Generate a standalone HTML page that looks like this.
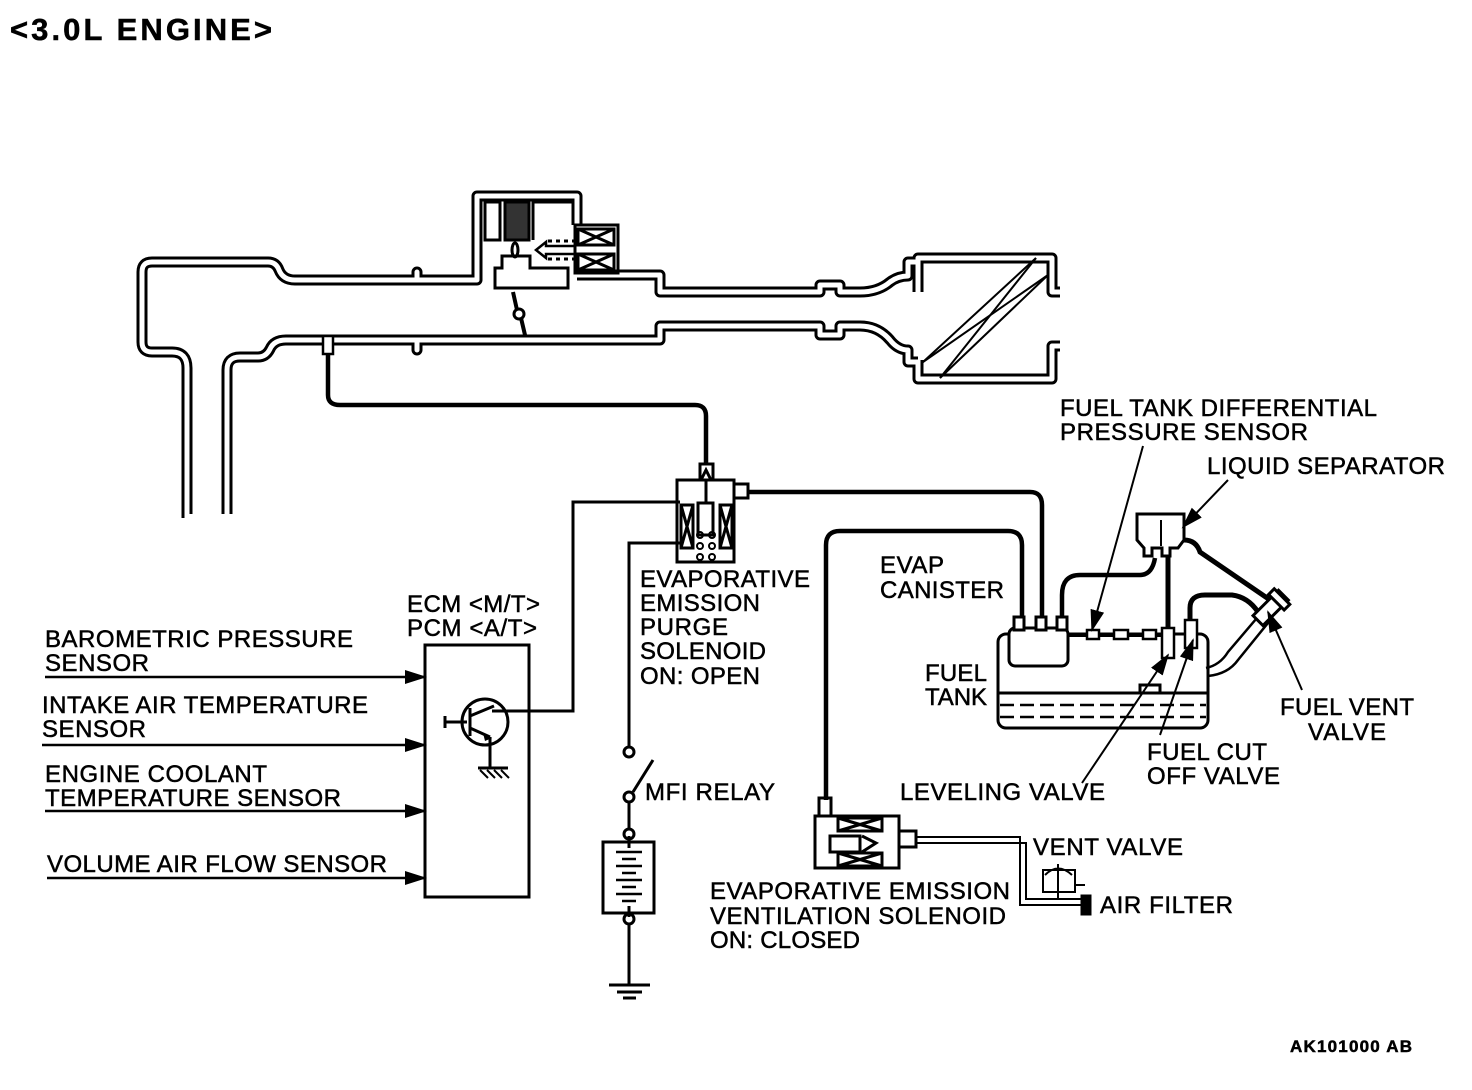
<!DOCTYPE html>
<html><head><meta charset="utf-8"><style>
html,body{margin:0;padding:0;background:#fff;}
svg{display:block;}
text{font-family:"Liberation Sans",Arial,sans-serif;font-size:24px;fill:#000;stroke:#000;stroke-width:0.5px;}
</style></head><body>
<svg width="1472" height="1090" viewBox="0 0 1472 1090" xmlns="http://www.w3.org/2000/svg">
<defs>
<marker id="ah2" markerWidth="22" markerHeight="14" refX="20" refY="7" orient="auto" markerUnits="userSpaceOnUse"><path d="M0,0 L22,7 L0,14 z" fill="#000"/></marker>
</defs>
<text x="10" y="40" style="font-size:31px;font-weight:bold" textLength="262">&lt;3.0L ENGINE&gt;</text>

<g fill="none" stroke-linejoin="round">
<g stroke="#000" stroke-width="11">
<path d="M187,518 V368 Q187,352 172,352 H152 Q142,352 142,342 V272 Q142,262 152,262 H268 Q276,262 279,270 Q283,280 295,280 H417 V272 V280 H477 V196 H577 V225"/>
<path d="M577,275 H660 V292 H820 V285 H840 V292 H860 Q878,292 890,282 Q898,276 908,276 V262 H918"/>
<path d="M227,518 V370 Q227,357 240,357 H258 Q266,357 270,349 Q274,340 286,340 H417 V350 V340 H660 V326 H820 V335 H840 V326 H860 Q878,326 890,340 Q898,350 908,350 V362 H918"/>
<path d="M918,292 V258 H1052 V292 H1060"/>
<path d="M918,360 V379 H1052 V346 H1060"/>
</g>
<g stroke="#fff" stroke-width="5">
<path d="M187,518 V368 Q187,352 172,352 H152 Q142,352 142,342 V272 Q142,262 152,262 H268 Q276,262 279,270 Q283,280 295,280 H417 V272 V280 H477 V196 H577 V225"/>
<path d="M577,275 H660 V292 H820 V285 H840 V292 H860 Q878,292 890,282 Q898,276 908,276 V262 H918"/>
<path d="M227,518 V370 Q227,357 240,357 H258 Q266,357 270,349 Q274,340 286,340 H417 V350 V340 H660 V326 H820 V335 H840 V326 H860 Q878,326 890,340 Q898,350 908,350 V362 H918"/>
<path d="M918,292 V258 H1052 V292 H1060"/>
<path d="M918,360 V379 H1052 V346 H1060"/>
</g>
</g>
<rect x="185" y="514" width="50" height="8" fill="#fff"/>
<g stroke="#000" stroke-width="2">
<line x1="923" y1="362" x2="1036" y2="258"/><line x1="923" y1="362" x2="1048" y2="275"/>
<line x1="940" y1="378" x2="1036" y2="258"/><line x1="940" y1="378" x2="1048" y2="275"/>
</g>
<g fill="none" stroke="#000" stroke-width="3">
<rect x="485" y="202" width="15" height="38"/>
<rect x="505" y="202" width="24" height="38" fill="#333"/>
<path d="M533,240 V202 H573 V225"/>
<rect x="575" y="225" width="43" height="48"/>
<rect x="578" y="229" width="36" height="16"/><path d="M578,229 L614,245 M614,229 L578,245"/>
<rect x="578" y="254" width="36" height="16"/><path d="M578,254 L614,270 M614,254 L578,270"/>
<path d="M502,268 V256 H530 V268 H568 V288 H495 V268 Z"/>
<ellipse cx="515" cy="250" rx="3" ry="7"/>
<path d="M536,250 L546,242 V246 H575 V254 H546 V258 Z" stroke-width="2.5"/>
<path d="M548,241 H575 M548,259 H575" stroke-dasharray="4,4"/>
<path d="M513,292 L517,310 M521,318 L525,335" stroke-width="4"/>
<circle cx="519" cy="314" r="5"/>
</g>
<rect x="323" y="336" width="10" height="18" fill="#fff" stroke="#000" stroke-width="2.5"/>
<path d="M328,354 V395 Q328,405 340,405 H695 Q706,405 706,416 V463" fill="none" stroke="#000" stroke-width="4.5"/>

<g fill="none" stroke="#000" stroke-width="3">
<rect x="677" y="480" width="57" height="82" fill="#fff"/>
<rect x="700" y="464" width="13" height="16"/>
<path d="M701,480 L706,470 L711,480"/>
<line x1="706" y1="480" x2="706" y2="503"/>
<rect x="734" y="484" width="14" height="14"/>
<rect x="681" y="505" width="12" height="43"/><path d="M681,505 L693,548 M693,505 L681,548"/>
<rect x="720" y="505" width="12" height="43"/><path d="M720,505 L732,548 M732,505 L720,548"/>
<rect x="698" y="503" width="15" height="32"/>
</g>
<g fill="none" stroke="#000" stroke-width="2">
<circle cx="700" cy="535" r="3"/><circle cx="712" cy="535" r="3"/>
<circle cx="700" cy="546" r="3"/><circle cx="712" cy="546" r="3"/>
<circle cx="700" cy="557" r="3"/><circle cx="712" cy="557" r="3"/>
</g>
<path d="M748,492 H1030 Q1042,492 1042,505 V618" fill="none" stroke="#000" stroke-width="4.5"/>

<g fill="none" stroke="#000" stroke-width="3">
<path d="M492,711 H573 V502 H680"/>
<path d="M680,543 H629 V746"/>
<circle cx="629" cy="752" r="5"/>
<path d="M633,792 L653,760"/>
<circle cx="629" cy="797" r="5"/>
<line x1="629" y1="802" x2="629" y2="828"/>
<circle cx="629" cy="834" r="5"/>
<rect x="603" y="842" width="51" height="71"/>
<circle cx="629" cy="919" r="5"/>
<line x1="629" y1="924" x2="629" y2="985"/>
<line x1="609" y1="985" x2="650" y2="985"/><line x1="617" y1="992" x2="642" y2="992"/><line x1="623" y1="998" x2="636" y2="998"/>
<line x1="629" y1="836" x2="629" y2="848"/><line x1="629" y1="906" x2="629" y2="917"/>
</g>
<g stroke="#000" stroke-width="2.5">
<line x1="616" y1="852" x2="642" y2="852"/><line x1="622" y1="859" x2="636" y2="859"/>
<line x1="616" y1="866" x2="642" y2="866"/><line x1="622" y1="873" x2="636" y2="873"/>
<line x1="616" y1="880" x2="642" y2="880"/><line x1="622" y1="887" x2="636" y2="887"/>
<line x1="616" y1="894" x2="642" y2="894"/><line x1="622" y1="901" x2="636" y2="901"/>
</g>

<g fill="none" stroke="#000" stroke-width="3">
<rect x="425" y="645" width="104" height="252"/>
<circle cx="485" cy="722" r="23"/>
<line x1="445" y1="722" x2="467" y2="722"/>
<line x1="445" y1="716" x2="445" y2="728"/>
<line x1="470" y1="708" x2="470" y2="736"/>
<line x1="470" y1="716" x2="494" y2="706"/>
<line x1="470" y1="728" x2="490" y2="737"/>
<line x1="490" y1="737" x2="490" y2="768"/>
<line x1="478" y1="768" x2="508" y2="768"/>
</g>
<g stroke="#000" stroke-width="2"><line x1="480" y1="770" x2="488" y2="778"/><line x1="487" y1="770" x2="495" y2="778"/><line x1="494" y1="770" x2="502" y2="778"/><line x1="501" y1="770" x2="509" y2="778"/></g>
<path d="M483,733 L492,738 L485,741 Z" fill="#000"/>
<g stroke="#000" stroke-width="2.5" marker-end="url(#ah2)">
<line x1="45" y1="677" x2="425" y2="677"/>
<line x1="42" y1="745" x2="425" y2="745"/>
<line x1="45" y1="811" x2="425" y2="811"/>
<line x1="47" y1="878" x2="425" y2="878"/>
</g>

<path d="M826,800 V545 Q826,531 840,531 H1008 Q1022,531 1022,545 V618" fill="none" stroke="#000" stroke-width="4.5"/>
<g fill="none" stroke="#000" stroke-width="3">
<rect x="819" y="798" width="12" height="18"/>
<rect x="815" y="816" width="84" height="52" fill="#fff"/>
<rect x="838" y="818" width="44" height="13"/><path d="M838,818 L882,831 M882,818 L838,831"/>
<rect x="838" y="853" width="44" height="13"/><path d="M838,853 L882,866 M882,853 L838,866"/>
<rect x="830" y="836" width="30" height="16"/>
<path d="M862,836 L876,843 L862,852"/>
<rect x="899" y="831" width="17" height="16" fill="#fff"/>
</g>
<g fill="none" stroke="#000" stroke-width="2">
<path d="M916,837 H1020 V905 H1082"/><path d="M916,843 H1026 V899 H1082"/>
<rect x="1082" y="896" width="8" height="18" stroke-width="3" fill="#000"/>
<path d="M1043,870 H1075 V892 H1043 Z"/>
<path d="M1045,875 Q1058,862 1072,875 M1058,864 V899 M1074,885 H1085"/>
</g>

<g fill="none" stroke="#000" stroke-width="3">
<rect x="998" y="634" width="210" height="94" rx="8"/>
<line x1="998" y1="693" x2="1208" y2="693"/>
<path d="M1000,705 H1206 M1000,717 H1206" stroke-width="2.5" stroke-dasharray="14,6"/>
<rect x="1140" y="685" width="20" height="8" fill="#fff"/>
<rect x="1009" y="628" width="59" height="38" rx="6" fill="#fff"/>
<rect x="1014" y="617" width="10" height="13" fill="#fff"/><rect x="1036" y="617" width="10" height="13" fill="#fff"/><rect x="1057" y="617" width="10" height="13" fill="#fff"/>
</g>
<path d="M1062,617 V595 Q1062,575 1080,575 H1140 Q1152,575 1155,558" fill="none" stroke="#000" stroke-width="4.5"/>
<path d="M1068,636 H1164" stroke="#000" stroke-width="2"/>
<g fill="#fff" stroke="#000" stroke-width="2.5">
<rect x="1087" y="630" width="12" height="9"/><rect x="1114" y="630" width="14" height="9"/><rect x="1143" y="630" width="13" height="9"/>
</g>
<path d="M1137,514 H1184 V540 L1178,548 H1170 V556 H1162 V548 H1152 V556 H1144 V548 L1137,540 Z" fill="#fff" stroke="#000" stroke-width="3"/>
<path d="M1161,520 V546" stroke="#000" stroke-width="2"/>
<path d="M1168,556 V630" stroke="#000" stroke-width="5"/>
<rect x="1162" y="628" width="12" height="30" fill="#fff" stroke="#000" stroke-width="2.5"/>
<path d="M1190,620 V608 Q1190,595 1205,595 H1232 Q1248,597 1258,612" fill="none" stroke="#000" stroke-width="5"/>
<rect x="1185" y="620" width="12" height="28" fill="#fff" stroke="#000" stroke-width="2.5"/>
<path d="M1184,540 Q1196,540 1200,552 L1270,600" fill="none" stroke="#000" stroke-width="5"/>
<path d="M1206,668 Q1220,665 1228,652 L1262,612" fill="none" stroke="#000" stroke-width="2.5"/>
<path d="M1208,676 Q1228,674 1238,660 L1272,618" fill="none" stroke="#000" stroke-width="2.5"/>
<path d="M1208,652 V672" stroke="#000" stroke-width="2.5"/>
<g transform="rotate(-45 1270 610)"><rect x="1254" y="602" width="36" height="14" fill="#fff" stroke="#000" stroke-width="3"/><rect x="1280" y="598" width="8" height="22" fill="#fff" stroke="#000" stroke-width="3"/></g>

<g stroke="#000" stroke-width="2" marker-end="url(#ah2)">
<line x1="1143" y1="446" x2="1092" y2="630"/>
<line x1="1228" y1="480" x2="1183" y2="527"/>
<line x1="1302" y1="690" x2="1268" y2="612"/>
<line x1="1082" y1="783" x2="1168" y2="655"/>
<line x1="1160" y1="735" x2="1193" y2="640"/>
</g>

<text x="45" y="647" textLength="308">BAROMETRIC PRESSURE</text>
<text x="45" y="671" textLength="104">SENSOR</text>
<text x="42" y="713" textLength="326">INTAKE AIR TEMPERATURE</text>
<text x="42" y="737" textLength="104">SENSOR</text>
<text x="45" y="782" textLength="222">ENGINE COOLANT</text>
<text x="45" y="806" textLength="296">TEMPERATURE SENSOR</text>
<text x="47" y="872" textLength="340">VOLUME AIR FLOW SENSOR</text>
<text x="407" y="612" textLength="133">ECM &lt;M/T&gt;</text>
<text x="407" y="636" textLength="130">PCM &lt;A/T&gt;</text>
<text x="640" y="587" textLength="170">EVAPORATIVE</text>
<text x="640" y="611" textLength="120">EMISSION</text>
<text x="640" y="635" textLength="88">PURGE</text>
<text x="640" y="659" textLength="126">SOLENOID</text>
<text x="640" y="684" textLength="120">ON: OPEN</text>
<text x="645" y="800" textLength="130">MFI RELAY</text>
<text x="880" y="573" textLength="64">EVAP</text>
<text x="880" y="598" textLength="124">CANISTER</text>
<text x="925" y="681" textLength="62">FUEL</text>
<text x="925" y="705" textLength="62">TANK</text>
<text x="1060" y="416" textLength="317">FUEL TANK DIFFERENTIAL</text>
<text x="1060" y="440" textLength="248">PRESSURE SENSOR</text>
<text x="1207" y="474" textLength="238">LIQUID SEPARATOR</text>
<text x="1280" y="715" textLength="134">FUEL VENT</text>
<text x="1308" y="740" textLength="78">VALVE</text>
<text x="1147" y="760" textLength="120">FUEL CUT</text>
<text x="1147" y="784" textLength="133">OFF VALVE</text>
<text x="900" y="800" textLength="205">LEVELING VALVE</text>
<text x="1033" y="855" textLength="150">VENT VALVE</text>
<text x="1100" y="913" textLength="133">AIR FILTER</text>
<text x="710" y="899" textLength="300">EVAPORATIVE EMISSION</text>
<text x="710" y="924" textLength="296">VENTILATION SOLENOID</text>
<text x="710" y="948" textLength="150">ON: CLOSED</text>
<text x="1290" y="1052" style="font-size:17px;font-weight:bold" textLength="122">AK101000 AB</text>
</svg>
</body></html>
